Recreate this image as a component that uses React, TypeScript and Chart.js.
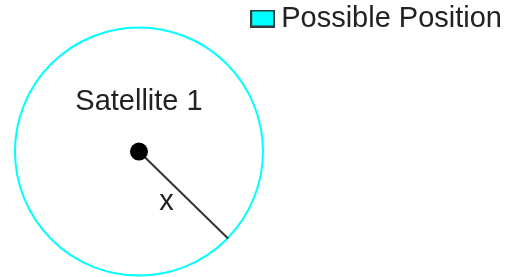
import React, { useEffect, useRef } from 'react';
import { Chart, registerables } from 'chart.js';

Chart.register(...registerables);

// ---- data ----
const legendLabel = 'Possible Position';
const satelliteX = [0];
const satelliteY = [0];
const rangeLineX = [0, 0.707];
const rangeLineY = [0, -0.707];
const textLabels = ['Satellite 1', 'x'];
const textX = [0, 0.218];
const textY = [0.4, -0.407];

// ---- scale extents ----
const xMin = -1.103;
const xMax = 2.913;
const yMin = -1.02;
const yMax = 0.882;

const FONT = "'Liberation Sans', Arial, Helvetica, sans-serif";
const TEXT_COLOR = '#222222';
const CYAN = '#00ffff';

function makeLegendBox(): HTMLCanvasElement {
  const c = document.createElement('canvas');
  c.width = 25;
  c.height = 18;
  const ctx = c.getContext('2d')!;
  ctx.fillStyle = CYAN;
  ctx.fillRect(0, 0, 25, 18);
  ctx.strokeStyle = '#2d3b3b';
  ctx.lineWidth = 2;
  ctx.strokeRect(1, 1, 23, 16);
  return c;
}

const textPlugin = {
  id: 'textLabels',
  afterDatasetsDraw(chart: any) {
    const { ctx, scales } = chart;
    const xs = scales.x;
    const ys = scales.y;
    ctx.save();
    ctx.font = `29px ${FONT}`;
    ctx.fillStyle = TEXT_COLOR;
    ctx.textAlign = 'center';
    ctx.textBaseline = 'middle';
    textLabels.forEach((t, i) => {
      ctx.fillText(t, xs.getPixelForValue(textX[i]), ys.getPixelForValue(textY[i]));
    });
    ctx.restore();
  },
};

export default function App() {
  const ref = useRef<HTMLCanvasElement | null>(null);

  useEffect(() => {
    if (!ref.current) return;
    const legendBox = makeLegendBox();
    const chart = new Chart(ref.current, {
      type: 'scatter',
      data: {
        datasets: [
          {
            label: 'Satellite 1',
            data: satelliteX.map((v, i) => ({ x: v, y: satelliteY[i] })),
            pointRadius: 9,
            pointHoverRadius: 9,
            backgroundColor: '#000000',
            borderColor: '#000000',
            borderWidth: 0,
            clip: false,
          } as any,
          {
            label: 'Range',
            type: 'line',
            data: rangeLineX.map((v, i) => ({ x: v, y: rangeLineY[i] })),
            borderColor: '#333333',
            borderWidth: 2,
            pointRadius: 0,
            fill: false,
            clip: false,
          } as any,
          {
            label: legendLabel,
            data: satelliteX.map((v, i) => ({ x: v, y: satelliteY[i] })),
            pointRadius: 124,
            pointHoverRadius: 124,
            borderColor: CYAN,
            backgroundColor: 'rgba(0,0,0,0)',
            borderWidth: 2,
            clip: false,
          } as any,
        ],
      },
      options: {
        animation: false,
        responsive: false,
        events: [],
        layout: { padding: 0, autoPadding: false },
        scales: {
          x: { type: 'linear', display: false, min: xMin, max: xMax },
          y: { type: 'linear', display: false, min: yMin, max: yMax },
        },
        plugins: {
          tooltip: { enabled: false },
          legend: {
            display: true,
            position: 'top',
            align: 'end',
            labels: {
              filter: (item: any) => item.text === legendLabel,
              usePointStyle: true,
              pointStyle: legendBox as any,
              pointStyleWidth: 8,
              padding: 4,
              color: TEXT_COLOR,
              font: { family: FONT, size: 29 },
            },
          },
        },
      } as any,
      plugins: [textPlugin],
    });
    return () => chart.destroy();
  }, []);

  return (
    <div style={{ position: 'fixed', left: 0, top: 0, width: 506, height: 277, background: '#fff' }}>
      <canvas ref={ref} width={506} height={277} />
    </div>
  );
}
